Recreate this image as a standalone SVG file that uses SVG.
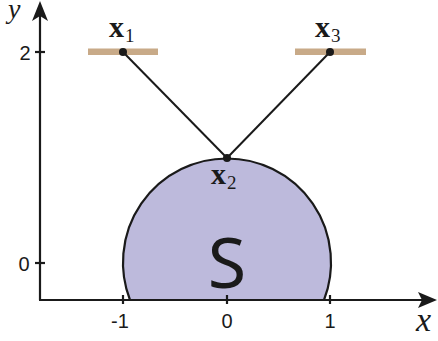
<svg xmlns="http://www.w3.org/2000/svg" width="438" height="341" viewBox="0 0 438 341">
<style>
.ax{stroke:#1a1a1a;stroke-width:2.2;fill:none}
.ln{stroke:#1a1a1a;stroke-width:2;fill:none}
.tk{font-family:"Liberation Sans",Arial,sans-serif;font-size:20px;fill:#1a1a1a;text-anchor:middle}
.mb{font-family:"Liberation Serif","Times New Roman",serif;font-weight:bold;font-size:30px;fill:#1a1a1a}
.ms{font-family:"Liberation Serif","Times New Roman",serif;font-size:19px;fill:#1a1a1a}
.mi{font-family:"Liberation Serif","Times New Roman",serif;font-style:italic;fill:#1a1a1a}
.bar{fill:#c8aa88}
.dot{fill:#1a1a1a}
</style>
<rect width="438" height="341" fill="#fff"/>
<g id="region-S">
<path d="M130,300 A104,104 0 1 1 324,300 Z" fill="#bdbadc" stroke="#1a1a1a" stroke-width="2.2"/>
<text x="227" y="288" font-family="'Noto Sans','Open Sans',sans-serif" font-size="70" fill="#1a1a1a" text-anchor="middle">S</text>
</g>
<g id="axes">
<line class="ax" x1="40" y1="300" x2="40" y2="14"/>
<line class="ax" x1="39" y1="300" x2="424" y2="300"/>
<path d="M40,1 L48,21 L40,16 L32,21 Z" fill="#1a1a1a"/>
<path d="M437,300 L418,308 L422,300 L418,292 Z" fill="#1a1a1a"/>
<line class="ax" x1="35" y1="52" x2="45" y2="52"/>
<line class="ax" x1="35" y1="263" x2="45" y2="263"/>
<line class="ax" x1="123" y1="295" x2="123" y2="304"/>
<line class="ax" x1="227" y1="295" x2="227" y2="304"/>
<line class="ax" x1="330" y1="295" x2="330" y2="304"/>
<text class="tk" x="25" y="60">2</text>
<text class="tk" x="24" y="271">0</text>
<text class="tk" x="120" y="328">-1</text>
<text class="tk" x="227" y="328">0</text>
<text class="tk" x="330" y="328">1</text>
<text class="mi" x="8" y="18" font-size="28">y</text>
<text class="mi" x="416" y="331" font-size="34">x</text>
</g>
<g id="bar-1"><rect class="bar" x="88" y="48.5" width="70" height="6.5"/></g>
<g id="bar-3"><rect class="bar" x="295" y="48.5" width="71" height="6.5"/></g>
<g id="connectors">
<line class="ln" x1="123" y1="52" x2="227" y2="158"/>
<line class="ln" x1="330" y1="52" x2="227" y2="158"/>
</g>
<g id="x1"><circle class="dot" cx="123" cy="52" r="4"/><text x="109" y="37"><tspan class="mb">x</tspan><tspan class="ms" dx="1" dy="5">1</tspan></text></g>
<g id="x2"><circle class="dot" cx="227" cy="158" r="4"/><text x="211" y="184"><tspan class="mb">x</tspan><tspan class="ms" dx="1" dy="5">2</tspan></text></g>
<g id="x3"><circle class="dot" cx="330" cy="52" r="4"/><text x="315" y="37"><tspan class="mb">x</tspan><tspan class="ms" dx="1" dy="5">3</tspan></text></g>
</svg>
